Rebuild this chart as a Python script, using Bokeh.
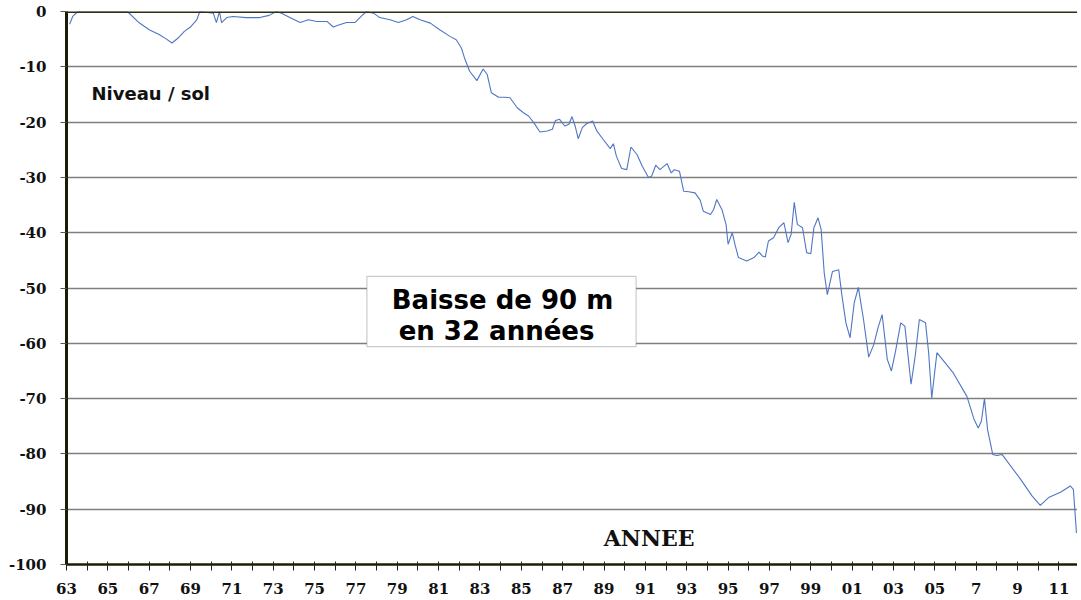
from bokeh.plotting import figure
from bokeh.models import FixedTicker, Span, Label, BoxAnnotation, Range1d
from bokeh.embed import file_html
from bokeh.resources import INLINE

annees = [1963.15, 1963.3, 1963.55, 1964.5, 1965.95, 1966.5, 1967.0, 1967.5, 1967.8, 1968.1,
          1968.4, 1968.7, 1969.0, 1969.3, 1969.45, 1970.1, 1970.25, 1970.4, 1970.5, 1970.75,
          1971.05, 1971.7, 1972.35, 1972.8, 1973.15, 1973.4, 1973.8, 1974.3, 1974.7, 1975.1,
          1975.6, 1975.9, 1976.2, 1976.55, 1976.95, 1977.25, 1977.5, 1977.85, 1978.15, 1978.65,
          1979.05, 1979.45, 1979.75, 1980.1, 1980.6, 1981.05, 1981.55, 1981.85, 1982.1, 1982.25,
          1982.5, 1982.85, 1983.15, 1983.35, 1983.55, 1983.9, 1984.2, 1984.45, 1984.8, 1985.1,
          1985.35, 1985.6, 1985.9, 1986.25, 1986.5, 1986.65, 1986.85, 1987.1, 1987.3, 1987.45,
          1987.6, 1987.75, 1987.95, 1988.15, 1988.45, 1988.65, 1988.95, 1989.3, 1989.45, 1989.6,
          1989.85, 1990.1, 1990.3, 1990.6, 1990.85, 1991.15, 1991.3, 1991.5, 1991.7, 1992.05,
          1992.25, 1992.4, 1992.65, 1992.85, 1993.1, 1993.4, 1993.65, 1993.8, 1994.15, 1994.3,
          1994.45, 1994.7, 1994.9, 1995.0, 1995.2, 1995.35, 1995.5, 1995.9, 1996.25, 1996.5,
          1996.65, 1996.8, 1996.95, 1997.2, 1997.45, 1997.7, 1997.9, 1998.05, 1998.2, 1998.35,
          1998.6, 1998.8, 1999.0, 1999.15, 1999.35, 1999.5, 1999.65, 1999.8, 2000.05, 2000.35,
          2000.5, 2000.7, 2000.9, 2001.1, 2001.3, 2001.55, 2001.8, 2002.05, 2002.25, 2002.45,
          2002.7, 2002.9, 2003.1, 2003.35, 2003.55, 2003.85, 2004.05, 2004.25, 2004.55, 2004.7,
          2004.85, 2005.1, 2005.9, 2006.55, 2006.9, 2007.1, 2007.25, 2007.4, 2007.55, 2007.8,
          2008.0, 2008.25, 2009.15, 2009.7, 2010.1, 2010.5, 2011.1, 2011.55, 2011.7, 2011.85]

niveau = [-2.3, -0.9, 0.0, 0.0, 0.0, -2.0, -3.3, -4.2, -4.9, -5.7,
          -4.8, -3.6, -2.8, -1.5, 0.0, -0.3, -2.0, 0.0, -2.0, -1.1,
          -0.9, -1.1, -1.1, -0.7, 0.0, -0.3, -1.1, -2.0, -1.5, -1.8,
          -1.8, -2.8, -2.4, -2.0, -2.0, -0.9, 0.0, -0.3, -1.1, -1.5,
          -2.0, -1.5, -0.9, -1.5, -2.1, -3.3, -4.5, -5.1, -6.6, -8.4,
          -10.8, -12.5, -10.4, -11.4, -14.7, -15.5, -15.5, -15.6, -17.4, -18.3,
          -18.9, -20.1, -21.8, -21.6, -21.3, -19.7, -19.5, -20.7, -20.4, -19.0,
          -20.7, -23.0, -21.0, -20.3, -19.8, -21.6, -23.1, -24.8, -23.9, -26.2,
          -28.4, -28.6, -24.5, -25.9, -28.0, -30.0, -29.8, -27.8, -28.6, -27.5,
          -29.2, -28.6, -28.9, -32.5, -32.6, -32.8, -34.1, -36.1, -36.7, -35.8,
          -34.0, -35.8, -38.5, -42.1, -40.0, -42.4, -44.5, -45.1, -44.5, -43.5,
          -44.2, -44.4, -41.5, -40.9, -39.1, -38.2, -41.8, -40.3, -34.5, -38.5,
          -39.1, -43.6, -43.8, -39.1, -37.3, -39.4, -47.3, -51.2, -47.0, -46.7,
          -51.2, -56.3, -59.0, -52.7, -49.9, -55.7, -62.5, -60.2, -57.2, -54.8,
          -62.9, -65.0, -61.4, -56.3, -56.9, -67.4, -62.3, -55.7, -56.3, -61.7,
          -69.9, -61.7, -65.4, -69.6, -73.8, -75.3, -74.1, -70.0, -75.6, -80.1,
          -80.3, -80.1, -84.6, -87.6, -89.3, -87.9, -86.9, -85.8, -86.4, -94.3]

y_ticks = [0, -10, -20, -30, -40, -50, -60, -70, -80, -90, -100]
y_labels = ["0", "-10", "-20", "-30", "-40", "-50", "-60", "-70", "-80", "-90", "-100"]
grid_ticks = [-10, -20, -30, -40, -50, -60, -70, -80, -90]
x_ticks = list(range(1963, 2012))
x_label_years = list(range(1963, 2012, 2))
x_labels = ["63", "65", "67", "69", "71", "73", "75", "77", "79", "81", "83", "85", "87",
            "89", "91", "93", "95", "97", "99", "01", "03", "05", "7", "9", "11"]

p = figure(width=1077, height=600, output_backend="svg", toolbar_location=None,
           x_range=Range1d(1963, 2011.9), y_range=Range1d(-100, 0),
           min_border_left=66, min_border_right=0, min_border_top=11, min_border_bottom=36)
p.outline_line_color = None
p.background_fill_color = "white"
p.border_fill_color = "white"

p.xgrid.visible = False
p.ygrid.ticker = FixedTicker(ticks=grid_ticks)
p.ygrid.grid_line_color = "#7f7f7f"
p.ygrid.grid_line_width = 1.5

# Y axis
ya = p.yaxis[0]
ya.ticker = FixedTicker(ticks=y_ticks)
ya.major_label_overrides = {t: l for t, l in zip(y_ticks, y_labels)}
ya.major_label_text_font = "DejaVu Serif"
ya.major_label_text_font_style = "bold"
ya.major_label_text_font_size = "15px"
ya.major_label_text_color = "#111111"
ya.axis_line_color = "#1c1c05"
ya.axis_line_width = 3
ya.major_tick_in = 0
ya.major_tick_out = 6
ya.major_tick_line_color = "#555555"
ya.minor_tick_line_color = None
ya.major_label_standoff = 14

# X axis
xa = p.xaxis[0]
xa.ticker = FixedTicker(ticks=x_ticks)
overrides = {t: "" for t in x_ticks}
for t, l in zip(x_label_years, x_labels):
    overrides[t] = l
xa.major_label_overrides = overrides
xa.major_label_text_font = "DejaVu Serif"
xa.major_label_text_font_style = "bold"
xa.major_label_text_font_size = "15px"
xa.major_label_text_color = "#111111"
xa.axis_line_color = "#1c1c05"
xa.axis_line_width = 2.5
xa.major_tick_in = 3
xa.major_tick_out = 6
xa.major_tick_line_color = "#222222"
xa.minor_tick_line_color = None
xa.major_label_standoff = 12

p.add_layout(Span(location=0, dimension="width", line_color="#2e2e10", line_width=3))

p.line(annees, niveau, line_color="#4f76c4", line_width=1.1)

p.add_layout(Label(x=1964.21, y=-14.8, text="Niveau / sol", text_align="left",
                   text_baseline="middle", text_font="DejaVu Sans", text_font_style="bold",
                   text_font_size="18px", text_color="#111111"))
p.add_layout(Label(x=1991.18, y=-95.2, text="ANNEE", text_align="center",
                   text_baseline="middle", text_font="DejaVu Serif", text_font_style="bold",
                   text_font_size="22px", text_color="#111111"))

p.add_layout(BoxAnnotation(left=1977.53, right=1990.55, top=-47.9, bottom=-60.6,
                           fill_color="white", fill_alpha=1.0,
                           line_color="#555555", line_width=1.2, level="annotation"))
p.add_layout(Label(x=1984.09, y=-52.1, text="Baisse de 90 m", text_align="center",
                   text_baseline="middle", text_font="DejaVu Sans", text_font_style="bold",
                   text_font_size="26px", text_color="#000000"))
p.add_layout(Label(x=1983.8, y=-57.8, text="en 32 années", text_align="center",
                   text_baseline="middle", text_font="DejaVu Sans", text_font_style="bold",
                   text_font_size="26px", text_color="#000000"))

open("out.html", "w").write(file_html(p, INLINE))
